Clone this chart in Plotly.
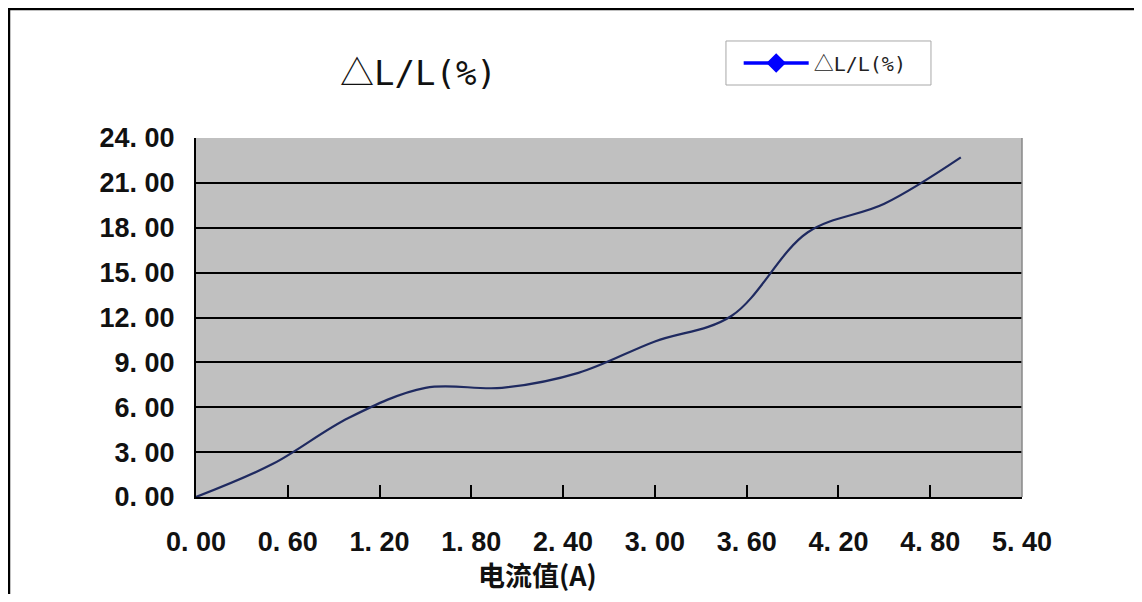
import plotly.graph_objects as go

# Data
current_a = [0.0, 0.5, 1.0, 1.5, 2.0, 2.5, 3.0, 3.5, 4.0, 4.5, 5.0]
delta_l_pct = [0.0, 2.2, 5.3, 7.3, 7.3, 8.3, 10.4, 12.1, 17.7, 19.6, 22.7]
series_name = "△L/L(%)"
x_ticks = [0.0, 0.6, 1.2, 1.8, 2.4, 3.0, 3.6, 4.2, 4.8, 5.4]
y_ticks = [0, 3, 6, 9, 12, 15, 18, 21, 24]
x_title = "电流值(A)"

def fmt(v):
    return f"{v:.2f}".replace(".", ". ")

def styled_title():
    return ("<span style='font-family:Noto Sans CJK SC'>" + series_name[0] + "</span>"
            + series_name[1:])

fig = go.Figure()
fig.add_trace(go.Scatter(
    x=current_a, y=delta_l_pct, mode="lines",
    line=dict(color="#1f2a60", width=2.2, shape="spline", smoothing=1.0),
    showlegend=False, hoverinfo="skip"))
fig.add_trace(go.Scatter(
    x=[None], y=[None], mode="lines+markers", name=styled_title(),
    line=dict(color="#0000ff", width=3.5),
    marker=dict(symbol="diamond", size=15, color="#0000ff")))

tick_font = dict(family="Liberation Sans, Arial, sans-serif", size=27, color="#111111",
                 weight="bold")

fig.update_layout(
    width=1126, height=586,
    margin=dict(l=188, r=112, t=130, b=97),
    paper_bgcolor="white", plot_bgcolor="#c0c0c0",
    showlegend=True,
    legend=dict(x=0.657, y=1.209, xanchor="left", yanchor="middle",
                bgcolor="rgba(0,0,0,0)", borderwidth=0,
                font=dict(family="DejaVu Sans Mono, monospace", size=20, color="#222222"),
                itemwidth=65),
    xaxis=dict(range=[0, 5.4], tickmode="array", tickvals=x_ticks,
               ticktext=[fmt(v) for v in x_ticks],
               ticks="inside", ticklen=12, tickwidth=2, tickcolor="black",
               showline=True, linecolor="black", linewidth=2,
               showgrid=False, zeroline=False,
               tickfont=tick_font, ticklabelstandoff=20),
    yaxis=dict(range=[0, 24], tickmode="array", tickvals=y_ticks,
               ticktext=[fmt(v) for v in y_ticks],
               ticks="", showline=True, linecolor="black", linewidth=2,
               showgrid=True, gridcolor="black", gridwidth=2, zeroline=False,
               tickfont=tick_font, ticklabelstandoff=14),
    shapes=[
        dict(type="rect", xref="paper", yref="paper", x0=-0.2264, x1=1.3,
             y0=-0.4, y1=1.359, line=dict(color="black", width=2.5)),
        dict(type="line", xref="paper", yref="paper", x0=1, x1=1, y0=0, y1=1,
             line=dict(color="#888888", width=1.5)),
        dict(type="rect", xref="paper", yref="paper", x0=0.6416, x1=0.8898,
             y0=1.1476, y1=1.2702, line=dict(color="#a8a8a8", width=1),
             layer="below"),
    ],
    annotations=[
        dict(text=styled_title(), xref="paper", yref="paper", x=0.269, y=1.189,
             showarrow=False, xanchor="center", yanchor="middle",
             font=dict(family="DejaVu Sans Mono, monospace", size=34, color="#111111")),
        dict(text=x_title, xref="paper", yref="paper", x=0.413, y=-0.2145,
             showarrow=False, xanchor="center", yanchor="middle",
             font=dict(family="Noto Sans CJK SC", size=27, color="#111111", weight="bold")),
    ],
)

fig.write_html("out.html")
